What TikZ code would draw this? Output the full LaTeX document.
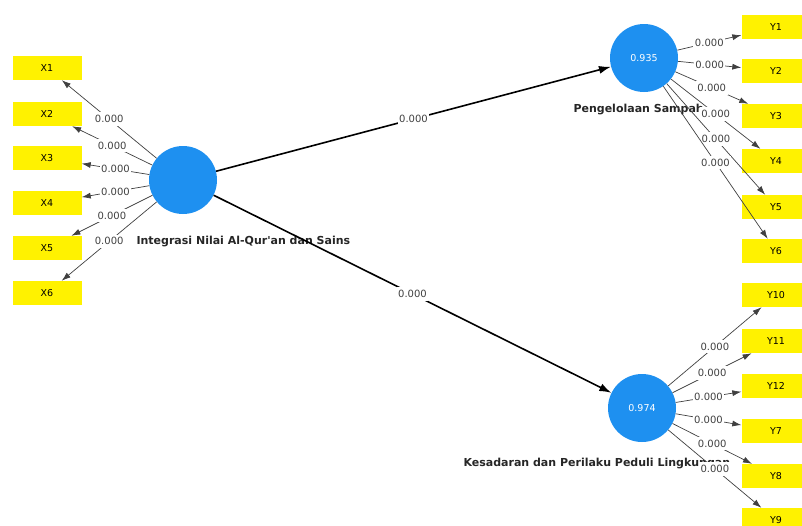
\documentclass[tikz,border=0pt]{standalone}
\usepackage{fontspec}
\setmainfont{DejaVu Sans}
\usetikzlibrary{arrows.meta}
\tikzset{>=latex}
\definecolor{lvblue}{RGB}{30,144,240}

\begin{document}
\begin{tikzpicture}[x=1pt,y=-1pt,
    lv/.style={circle,fill=lvblue,minimum size=68pt,inner sep=0pt,text=white,font=\fontsize{9.5}{9.5}\selectfont},
    mv/.style={fill=yellow,minimum width=69pt,minimum height=24pt,inner sep=0pt,font=\fontsize{9.5}{9.5}\selectfont},
    lvname/.style={anchor=west,text=black!85,font=\bfseries\fontsize{11}{11}\selectfont},
    coef/.style={fill=white,inner xsep=1.5pt,inner ysep=3pt,text=black!75,font=\fontsize{10}{10}\selectfont},
    load/.style={-{Latex[length=9pt,width=6pt]},draw=black!75,line width=0.7pt},
    inner/.style={-{Latex[length=12pt,width=8pt]},line width=1.6pt}]
  \useasboundingbox (0,0) rectangle (802,525);
  \node[lv] (IN) at (183,180) {};
  \node[lv] (PS) at (644,58) {0.935};
  \node[lv] (KP) at (642,408) {0.974};
  \foreach \i/\y in {1/68,2/114,3/158,4/203,5/248,6/293}
    \node[mv] (X\i) at (47,\y) {X\i};
  \foreach \i/\y in {1/27,2/71,3/116,4/161,5/207,6/251,10/295,11/341,12/386,7/431,8/476,9/520}
    \node[mv] (Y\i) at (776,\y) {Y\i};
  \node[lvname] at (133,242) {Integrasi Nilai Al-Qur\textquotesingle an dan Sains};
  \node[lvname] at (570,110) {Pengelolaan Sampah};
  \node[lvname] at (460,463) {Kesadaran dan Perilaku Peduli Lingkungan};
  \foreach \i in {1,...,6}
    \draw[load] (IN) -- node[coef] {0.000} (X\i);
  \foreach \i in {1,...,6}
    \draw[load] (PS) -- node[coef] {0.000} (Y\i);
  \foreach \i in {7,...,12}
    \draw[load] (KP) -- node[coef] {0.000} (Y\i);
  \draw[inner] (IN) -- node[coef] {0.000} (PS);
  \draw[inner] (IN) -- node[coef] {0.000} (KP);
\end{tikzpicture}
\end{document}
